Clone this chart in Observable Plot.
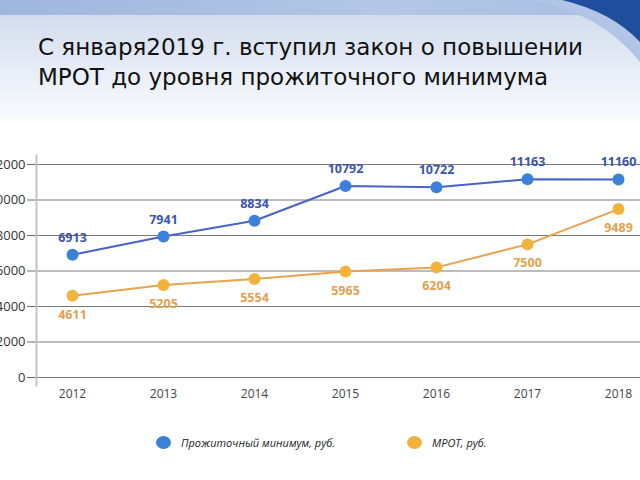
<!DOCTYPE html>
<html><head><meta charset="utf-8">
<script src="https://cdn.jsdelivr.net/npm/d3@7"></script>
<script src="https://cdn.jsdelivr.net/npm/@observablehq/plot@0.6"></script>
<style>
html,body{margin:0;padding:0;background:#fff;width:640px;height:480px;overflow:hidden;position:relative;font-family:"Open Sans",sans-serif;}
#band{position:absolute;left:0;top:0;width:640px;height:15px;background:linear-gradient(90deg,#9fb6de,#b3c6e6 60%,#a8bde2);}
#head{position:absolute;left:0;top:15px;width:640px;height:104px;background:linear-gradient(180deg,#d3ddee,#eef2f9 70%,#f8fafd);}
#deco{position:absolute;left:0;top:0;}
#title{position:absolute;left:38px;top:32px;font-family:"DejaVu Sans",sans-serif;font-size:23px;line-height:30px;color:#111;}
#chart{position:absolute;left:0;top:130px;}
#legend{position:absolute;top:435px;left:0;width:640px;font-size:11px;font-style:italic;color:#222;}
.it{position:absolute;display:flex;align-items:center;}
.sw{display:inline-block;width:15px;height:13px;border-radius:50%;margin-right:10px;}
</style></head>
<body>
<div id="band"></div>
<div id="head"></div>
<svg id="deco" width="640" height="70">
  <path d="M530,0 Q600,12 640,62 L640,0 Z" fill="#b2c5e6"/>
  <path d="M562,0 Q612,12 640,42 L640,0 Z" fill="#1f4f9c"/>
</svg>
<div id="title">С января2019 г. вступил закон о повышении<br>МРОТ до уровня прожиточного минимума</div>
<div id="chart"></div>
<div id="legend">
  <div class="it" style="left:156px"><span class="sw" style="background:#3b80d9"></span>Прожиточный минимум, руб.</div>
  <div class="it" style="left:407px"><span class="sw" style="background:#f1b33c"></span>МРОТ, руб.</div>
</div>
<script>
const years = [2012, 2013, 2014, 2015, 2016, 2017, 2018];
const subsistence = [6913, 7941, 8834, 10792, 10722, 11163, 11160];
const minWage = [4611, 5205, 5554, 5965, 6204, 7500, 9489];
const yTicks = [0, 2000, 4000, 6000, 8000, 10000, 12000];

const blue = years.map((y, i) => ({year: y, v: subsistence[i]}));
const orange = years.map((y, i) => ({year: y, v: minWage[i]}));

const chart = Plot.plot({
  width: 640,
  height: 287,
  marginTop: 34,
  marginBottom: 40,
  marginLeft: 36,
  marginRight: 0,
  style: {fontFamily: "Open Sans, sans-serif", background: "transparent", overflow: "visible"},
  x: {type: "point", domain: years, range: [70, 619], padding: 0},
  y: {domain: [0, 12000]},
  marks: [
    Plot.gridY(yTicks, {stroke: "#6a6a6a", strokeOpacity: 0.9}),
    Plot.axisY(yTicks, {tickSize: 9, tickPadding: 2, stroke: "#6a6a6a", fontSize: 13, color: "#333", tickFormat: d => String(d), label: null}),
    Plot.frame({anchor: "left", stroke: "#c4c4c4", strokeWidth: 2, insetTop: -9, insetBottom: -8}),
    Plot.axisX({tickSize: 0, tickPadding: 12, fontSize: 12, color: "#444", tickFormat: d => String(d), label: null}),
    Plot.line(orange, {x: "year", y: "v", stroke: "#e9a24a", strokeWidth: 2}),
    Plot.line(blue, {x: "year", y: "v", stroke: "#4a62c6", strokeWidth: 2}),
    Plot.dot(orange, {x: "year", y: "v", r: 6, fill: "#f1b33c"}),
    Plot.dot(blue, {x: "year", y: "v", r: 6, fill: "#3b80d9"}),
    Plot.text(blue, {x: "year", y: "v", text: d => String(d.v), dy: -17, fill: "#3b55aa", fontSize: 12.5, fontWeight: "bold"}),
    Plot.text(orange, {x: "year", y: "v", text: d => String(d.v), dy: 19, fill: "#e2a14e", fontSize: 12.5, fontWeight: "bold"})
  ]
});
document.getElementById("chart").appendChild(chart);
</script>
</body></html>
